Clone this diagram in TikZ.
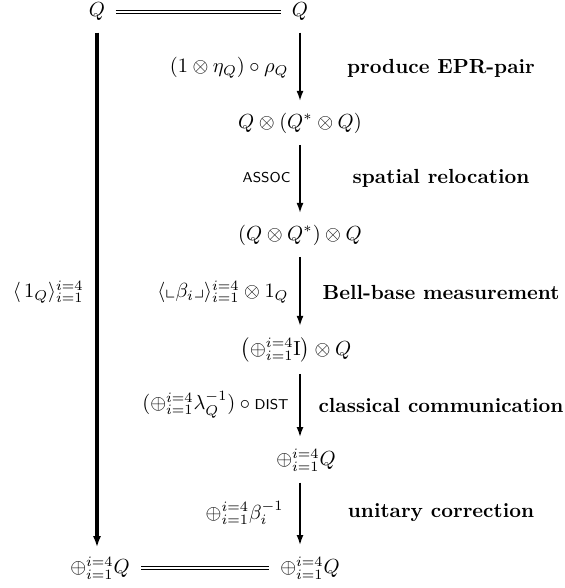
\documentclass[tikz,border=0pt]{standalone}
\usepackage{amsmath,amssymb}
\usetikzlibrary{arrows.meta}
\begin{document}
\begin{tikzpicture}[x=0.49pt,y=-0.49pt,
  obj/.style={inner sep=0.5pt},
  lab/.style={inner sep=0pt,anchor=east},
  desc/.style={inner sep=0pt,font=\bfseries},
  arr/.style={line width=0.9pt,-{Latex[length=5pt,width=3.4pt]},shorten <=5pt,shorten >=5pt},
  thickarr/.style={line width=1.5pt,-{Latex[length=5.5pt,width=4pt]}},
  eq/.style={double,double distance=1.4pt,line width=0.3pt}]
\useasboundingbox (0,0) rectangle (565,588);
% right column
\node[obj] (n0) at (300,12) {$Q$};
\node[obj] (n1) at (300,123) {$Q\otimes(Q^{*}\otimes Q)$};
\node[obj] (n2) at (300,235) {$(Q\otimes Q^{*})\otimes Q$};
\node[obj] (n3) at (296,350) {$\left(\oplus_{i=1}^{i=4}\mathrm{I}\right)\otimes Q$};
\node[obj] (n4) at (306,460) {$\oplus_{i=1}^{i=4}Q$};
\node[obj] (n5) at (310,568) {$\oplus_{i=1}^{i=4}Q$};
% left column
\node[obj] (l0) at (97,12) {$Q$};
\node[obj] (l5) at (100,568) {$\oplus_{i=1}^{i=4}Q$};
% equalities
\draw[eq,shorten <=4.5pt,shorten >=4.5pt] (l0) -- (n0);
\draw[eq,shorten <=5pt,shorten >=5pt] (l5) -- (n5);
% right arrows
\draw[arr] (n0.south) -- (n1.north);
\draw[arr] (n1.south) -- (n2.north);
\draw[arr] (n2.south) -- (n3.north -| n2.south);
\draw[arr] (n3.south -| n2.south) -- (n4.north -| n2.south);
\draw[arr] (n4.south -| n2.south) -- (n5.north -| n2.south);
% left arrow
\draw[thickarr,shorten <=5pt,shorten >=4pt] (l0.south) -- (l0.south |- l5.north);
% math labels
\node[lab] (a1) at (289,68) {$(1\otimes\eta_{Q})\circ\rho_{Q}$};
\node[lab] (a2) at (291,178) {$\textsf{\scriptsize ASSOC}$};
\node[lab] (a3) at (289,292) {$\langle\llcorner\beta_{i}\lrcorner\rangle_{i=1}^{i=4}\otimes 1_{Q}$};
\node[lab] (a4) at (289,405) {$(\oplus_{i=1}^{i=4}\lambda_{Q}^{-1})\circ\textsf{\scriptsize DIST}$};
\node[lab] (a5) at (284,513) {$\oplus_{i=1}^{i=4}\beta_{i}^{-1}$};
\node[lab] (a0) at (84,292) {$\langle\,1_{Q}\rangle_{i=1}^{i=4}$};
% descriptions
\node[desc] (d1) at (441,68) {produce EPR-pair};
\node[desc] (d2) at (441,178) {spatial relocation};
\node[desc] (d3) at (441,292) {Bell-base measurement};
\node[desc] (d4) at (441,405) {classical communication};
\node[desc] (d5) at (441,513) {unitary correction};
\end{tikzpicture}
\end{document}
